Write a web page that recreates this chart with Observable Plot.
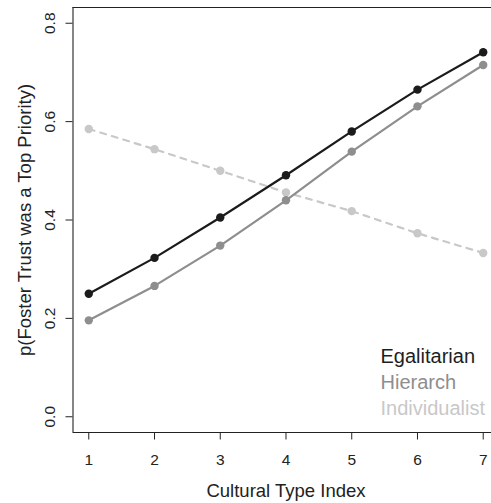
<!DOCTYPE html>
<html><head><meta charset="utf-8">
<script src="https://cdn.jsdelivr.net/npm/d3@7"></script>
<script src="https://cdn.jsdelivr.net/npm/@observablehq/plot@0.6"></script>
<style>body{margin:0;background:#fff} svg{display:block}</style>
</head><body><div id="chart"></div>
<script>
const cultIndex = [1, 2, 3, 4, 5, 6, 7];
const egalitarian = [0.250, 0.323, 0.405, 0.491, 0.580, 0.665, 0.741];
const hierarch = [0.196, 0.266, 0.348, 0.440, 0.539, 0.631, 0.715];
const individualist = [0.585, 0.544, 0.500, 0.456, 0.418, 0.373, 0.333];
const seriesNames = ["Egalitarian", "Hierarch", "Individualist"];
const seriesColors = ["#1b1b1b", "#8e8e8e", "#c8c8c8"];
const xTicks = [1, 2, 3, 4, 5, 6, 7];
const yTicks = [0, 0.2, 0.4, 0.6, 0.8];
const xLabel = "Cultural Type Index";
const yLabel = "p(Foster Trust was a Top Priority)";

const seriesValues = [egalitarian, hierarch, individualist];
const rows = seriesNames.flatMap((s, i) => cultIndex.map((c, j) => ({series: s, idx: c, value: seriesValues[i][j]})));
const xDomain = [0.76, 7.126];
const yDomain = [-0.032, 0.832];
const axisColor = "#222";

const seriesMarks = [2, 1, 0].flatMap(i => {
  const d = rows.filter(r => r.series === seriesNames[i]);
  return [
    Plot.line(d, {x: "idx", y: "value", stroke: seriesColors[i], strokeWidth: 2.2,
      strokeDasharray: i === 2 ? "6,6" : null, strokeLinecap: "round"}),
    Plot.dot(d, {x: "idx", y: "value", r: 4.2, fill: seriesColors[i], stroke: "none"})
  ];
});

const legendMarks = seriesNames.map((name, i) =>
  Plot.text([name], {frameAnchor: "bottom-right", textAnchor: "start", lineAnchor: "bottom",
    dx: -111, dy: -(70 - 26 * i), fontSize: 20, letterSpacing: 0.2,
    fill: i === 0 ? "#1e1e1e" : seriesColors[i]})
);

const chart = Plot.plot({
  width: 491,
  height: 503,
  marginLeft: 72.5,
  marginRight: 0,
  marginTop: 7,
  marginBottom: 71,
  style: {fontFamily: "'Liberation Sans', Arial, Helvetica, sans-serif", background: "#fff", color: axisColor},
  x: {domain: xDomain},
  y: {domain: yDomain},
  marks: [
    Plot.ruleX([xDomain[0]], {stroke: axisColor, strokeWidth: 1.1}),
    Plot.ruleY([yDomain[0], yDomain[1]], {stroke: axisColor, strokeWidth: 1.1}),
    Plot.axisX({ticks: xTicks, tickSize: 7.5, tickPadding: 14, fontSize: 15.5, tickFormat: d3.format("d"),
      label: null, stroke: axisColor, fill: axisColor}),
    Plot.axisY({ticks: yTicks, tickSize: 7, tickFormat: () => "", label: null, stroke: axisColor}),
    Plot.text(yTicks, {y: d => d, text: d => d3.format(".1f")(d), frameAnchor: "left", dx: -18,
      rotate: -90, textAnchor: "middle", lineAnchor: "bottom", fontSize: 15.5, fill: axisColor}),
    Plot.text([xLabel], {x: () => d3.mean(xTicks), frameAnchor: "bottom", dy: 64.7, lineAnchor: "bottom",
      fontSize: 18.5, fill: axisColor}),
    Plot.text([yLabel], {frameAnchor: "left", dx: -42, rotate: -90, textAnchor: "middle", lineAnchor: "bottom",
      fontSize: 18.5, fill: axisColor}),
    ...seriesMarks,
    ...legendMarks
  ]
});
document.getElementById("chart").appendChild(chart);
</script>
</body></html>
